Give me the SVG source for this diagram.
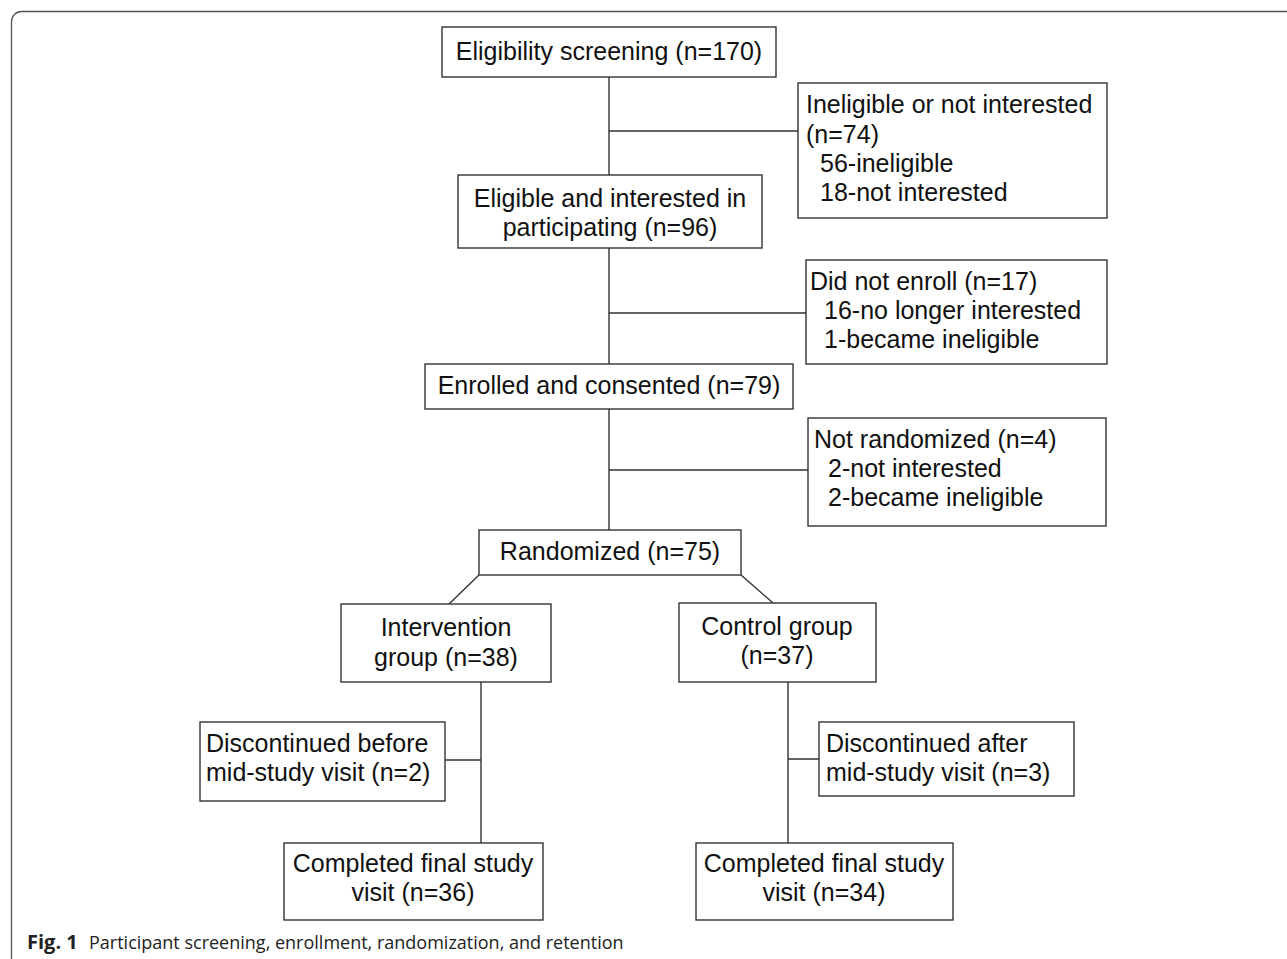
<svg xmlns="http://www.w3.org/2000/svg" width="1287" height="959" viewBox="0 0 1287 959">
<style>
.box{fill:#fff;stroke:#333;stroke-width:1.4}
.c{fill:none;stroke:#333;stroke-width:1.4}
text{font-family:"Liberation Sans",Arial,sans-serif;font-size:25px;fill:#111}
.m{text-anchor:middle}
.cap{font-family:"Open Sans","Noto Sans",sans-serif;font-size:18px;fill:#222}
</style>
<rect x="0" y="0" width="1287" height="959" fill="#fff"/>
<path d="M11.5 970 V21.5 A10 10 0 0 1 21.5 11.5 H1300" fill="none" stroke="#555" stroke-width="1.3"/>
<g id="connectors">
<path class="c" d="M609 77 V175 M609 131 H798"/>
<path class="c" d="M609 248 V364 M609 313 H806"/>
<path class="c" d="M609 409 V530 M609 470 H808"/>
<path class="c" d="M479 575 L449 604 M741 575 L773 603"/>
<path class="c" d="M481 682 V843 M445 760 H481"/>
<path class="c" d="M788 682 V843 M788 759 H819"/>
</g>
<g id="n1"><rect class="box" x="442" y="27" width="334" height="50"/><text class="m" x="609" y="60">Eligibility screening (n=170)</text></g>
<g id="n2"><rect class="box" x="798" y="83" width="309" height="135"/><text x="806" y="113">Ineligible or not interested</text><text x="806" y="143">(n=74)</text><text x="820" y="172">56-ineligible</text><text x="820" y="201">18-not interested</text></g>
<g id="n3"><rect class="box" x="458" y="175" width="304" height="73"/><text class="m" x="610" y="207">Eligible and interested in</text><text class="m" x="610" y="236">participating (n=96)</text></g>
<g id="n4"><rect class="box" x="806" y="260" width="301" height="104"/><text x="810" y="290">Did not enroll (n=17)</text><text x="824" y="319">16-no longer interested</text><text x="824" y="348">1-became ineligible</text></g>
<g id="n5"><rect class="box" x="425" y="364" width="368" height="45"/><text class="m" x="609" y="394">Enrolled and consented (n=79)</text></g>
<g id="n6"><rect class="box" x="808" y="418" width="298" height="108"/><text x="814" y="448">Not randomized (n=4)</text><text x="828" y="477">2-not interested</text><text x="828" y="506">2-became ineligible</text></g>
<g id="n7"><rect class="box" x="479" y="530" width="262" height="45"/><text class="m" x="610" y="560">Randomized (n=75)</text></g>
<g id="n8"><rect class="box" x="341" y="604" width="210" height="78"/><text class="m" x="446" y="636">Intervention</text><text class="m" x="446" y="666">group (n=38)</text></g>
<g id="n9"><rect class="box" x="679" y="603" width="197" height="79"/><text class="m" x="777" y="635">Control group</text><text class="m" x="777" y="664">(n=37)</text></g>
<g id="n10"><rect class="box" x="200" y="722" width="245" height="79"/><text x="206" y="752">Discontinued before</text><text x="206" y="781">mid-study visit (n=2)</text></g>
<g id="n11"><rect class="box" x="819" y="722" width="255" height="74"/><text x="826" y="752">Discontinued after</text><text x="826" y="781">mid-study visit (n=3)</text></g>
<g id="n12"><rect class="box" x="284" y="843" width="259" height="77"/><text class="m" x="413" y="872">Completed final study</text><text class="m" x="413" y="901">visit (n=36)</text></g>
<g id="n13"><rect class="box" x="696" y="843" width="257" height="77"/><text class="m" x="824" y="872">Completed final study</text><text class="m" x="824" y="901">visit (n=34)</text></g>
<text class="cap" x="27" y="949"><tspan font-weight="bold" font-size="20">Fig. 1</tspan><tspan x="89">Participant screening, enrollment, randomization, and retention</tspan></text>
</svg>
